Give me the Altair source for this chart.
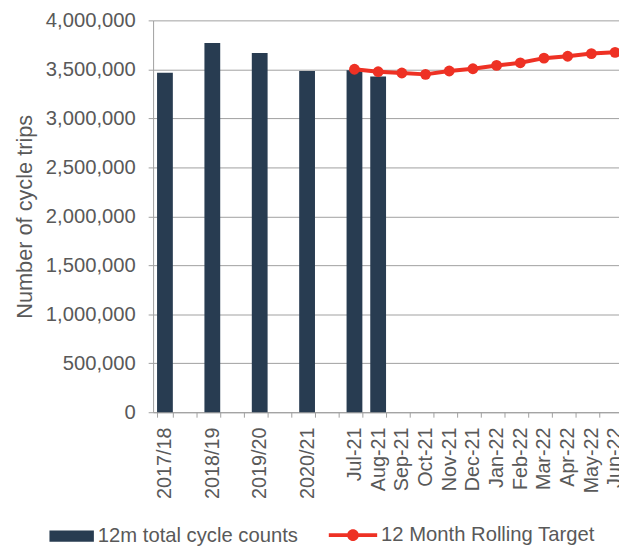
import altair as alt
import pandas as pd

# ---- data ----
categories = ["2017/18", " ", "2018/19", "  ", "2019/20", "   ", "2020/21", "    ",
              "Jul-21", "Aug-21", "Sep-21", "Oct-21", "Nov-21", "Dec-21",
              "Jan-22", "Feb-22", "Mar-22", "Apr-22", "May-22", "Jun-22"]
bar_periods = ["2017/18", "2018/19", "2019/20", "2020/21", "Jul-21", "Aug-21"]
bar_values = [3465000, 3768000, 3667000, 3483000, 3492000, 3426000]
target_months = ["Jul-21", "Aug-21", "Sep-21", "Oct-21", "Nov-21", "Dec-21",
                 "Jan-22", "Feb-22", "Mar-22", "Apr-22", "May-22", "Jun-22"]
target_values = [3501000, 3476000, 3463000, 3449000, 3483000, 3506000,
                 3540000, 3567000, 3614000, 3634000, 3661000, 3674000]
y_ticks = [0, 500000, 1000000, 1500000, 2000000, 2500000, 3000000, 3500000, 4000000]
bar_series = "12m total cycle counts"
line_series = "12 Month Rolling Target"

bars_df = pd.DataFrame({"period": bar_periods, "value": bar_values, "series": bar_series})
line_df = pd.DataFrame({"period": target_months, "value": target_values, "series": line_series})

FONT = "Liberation Sans"
TXT = "#595959"
NAVY = "#283C51"
RED = "#EE3124"

xscale = alt.Scale(domain=categories, range=[0, 480], paddingInner=1/3, paddingOuter=1/6)
yscale = alt.Scale(domain=[0, 4000000], nice=False)

xaxis = alt.Axis(title=None, labelAngle=-90, labelFontSize=20, labelColor=TXT, labelFont=FONT,
                 tickBand="extent", tickSize=5, tickColor="#A0A0A0", domainColor="#A0A0A0",
                 labelPadding=10, grid=False)
yaxis = alt.Axis(title="Number of cycle trips", values=y_ticks, format=",.0f", labelFontSize=20.5,
                 labelColor=TXT, labelFont=FONT, titleFont=FONT, titleFontSize=22,
                 titleColor=TXT, titleFontWeight="normal", titlePadding=9, labelPadding=13,
                 tickSize=5, tickColor="#A0A0A0", domainColor="#A0A0A0",
                 grid=True, gridColor="#A0A0A0", gridWidth=1)

bar_sym = "M-1,-0.25H1V0.25H-1Z"
line_sym = ("M-1,-0.08H1V0.08H-1Z"
            "M-0.24,0A0.24,0.24 0 1 1 0.24,0A0.24,0.24 0 1 1 -0.24,0Z")

bars = alt.Chart(bars_df).mark_bar(color=NAVY).encode(
    x=alt.X("period:N", scale=xscale, axis=xaxis, sort=categories),
    y=alt.Y("value:Q", scale=yscale, axis=yaxis),
    color=alt.Color("series:N", scale=alt.Scale(domain=[bar_series], range=[NAVY]),
                    legend=alt.Legend(title=None, orient="none", legendX=-105, legendY=500,
                                      symbolType=bar_sym, symbolSize=2025, symbolStrokeWidth=0,
                                      labelFontSize=20.5, labelFont=FONT, labelColor=TXT,
                                      labelOffset=4, labelLimit=0, padding=0)),
)

line = alt.Chart(line_df).mark_line(strokeWidth=4).encode(
    x=alt.X("period:N", scale=xscale, sort=categories),
    y=alt.Y("value:Q", scale=yscale),
    stroke=alt.Stroke("series:N", scale=alt.Scale(domain=[line_series], range=[RED]),
                      legend=alt.Legend(title=None, orient="none", legendX=178, legendY=497,
                                        symbolType=line_sym, symbolSize=2401,
                                        symbolFillColor=RED, symbolStrokeWidth=0,
                                        labelFontSize=20.5, labelFont=FONT, labelColor=TXT,
                                        labelOffset=4, labelLimit=0, padding=0)),
)

points = alt.Chart(line_df).mark_point(filled=True, size=120, opacity=1, color=RED).encode(
    x=alt.X("period:N", scale=xscale, sort=categories),
    y=alt.Y("value:Q", scale=yscale),
)

chart = alt.layer(bars, line, points).properties(
    width=472, height=397,
    padding={"left": 147, "top": 9, "right": 0, "bottom": 133},
    autosize=alt.AutoSizeParams(type="none"),
).configure_view(stroke=None)

chart.save("out.html", embed_options={"renderer": "svg", "actions": False})
